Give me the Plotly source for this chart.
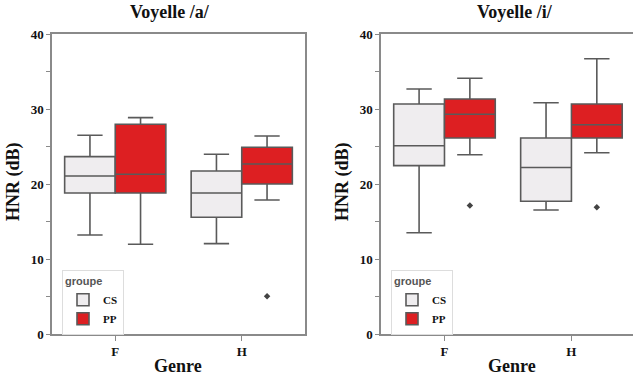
import plotly.graph_objects as go

genres = ["F", "H"]
groups = ["CS", "PP"]
yticks = [0, 5, 10, 15, 20, 25, 30, 35, 40]
yticklabels = ["0", "", "10", "", "20", "", "30", "", "40"]

# Voyelle /a/
a_cs_low = [13.2, 12.05]
a_cs_q1 = [18.8, 15.56]
a_cs_med = [21.07, 18.8]
a_cs_q3 = [23.65, 21.73]
a_cs_high = [26.5, 23.96]
a_cs_out = [[None], [None]]

a_pp_low = [11.96, 17.87]
a_pp_q1 = [18.8, 20.0]
a_pp_med = [21.3, 22.67]
a_pp_q3 = [27.96, 24.9]
a_pp_high = [28.85, 26.4]
a_pp_out = [[None], [5.03]]

# Voyelle /i/
i_cs_low = [13.5, 16.53]
i_cs_q1 = [22.45, 17.7]
i_cs_med = [25.1, 22.2]
i_cs_q3 = [30.67, 26.13]
i_cs_high = [32.67, 30.84]
i_cs_out = [[None], [None]]

i_pp_low = [23.9, 24.17]
i_pp_q1 = [26.13, 26.13]
i_pp_med = [29.3, 27.9]
i_pp_q3 = [31.33, 30.67]
i_pp_high = [34.1, 36.7]
i_pp_out = [[17.15], [16.9]]

W, H = 633, 382
fill = {"CS": "#efedef", "PP": "#dd1f22"}
linec = "#5a5a5a"
serif = "Liberation Serif"

fig = go.Figure()

def add_box(name, low, q1, med, q3, high, out, xa, ya, legend):
    fig.add_trace(go.Box(
        name=name, x=genres, y=out, q1=q1, median=med, q3=q3,
        lowerfence=low, upperfence=high, orientation="v",
        boxpoints="outliers", jitter=0, pointpos=0,
        marker=dict(symbol="diamond", size=5, color="#444444",
                    line=dict(width=0)),
        fillcolor=fill[name], line=dict(color=linec, width=1.6),
        whiskerwidth=0.5, xaxis=xa, yaxis=ya, legend=legend,
        offsetgroup=name, alignmentgroup=xa,
        showlegend=True, hoverinfo="skip"))

add_box("CS", a_cs_low, a_cs_q1, a_cs_med, a_cs_q3, a_cs_high, a_cs_out, "x", "y", "legend")
add_box("PP", a_pp_low, a_pp_q1, a_pp_med, a_pp_q3, a_pp_high, a_pp_out, "x", "y", "legend")
add_box("CS", i_cs_low, i_cs_q1, i_cs_med, i_cs_q3, i_cs_high, i_cs_out, "x2", "y2", "legend2")
add_box("PP", i_pp_low, i_pp_q1, i_pp_med, i_pp_q3, i_pp_high, i_pp_out, "x2", "y2", "legend2")

tickfont = dict(family=serif, size=13, color="#111111", weight="bold")
axcol = "#8a8a8a"

def xaxis(domain, rng, mirror):
    return dict(domain=domain, range=rng, type="category", categoryorder="array",
                categoryarray=genres, showline=True, linecolor=axcol, linewidth=1.5,
                mirror=mirror, ticks="outside", ticklen=5, tickcolor=axcol,
                tickfont=tickfont, showgrid=False, zeroline=False, fixedrange=True,
                automargin=False)

def yaxis(anchor, mirror):
    return dict(domain=[(H - 334) / H, (H - 34) / H], range=[0, 40], anchor=anchor,
                tickvals=yticks, ticktext=yticklabels, showline=True, linecolor=axcol,
                linewidth=1.5, mirror=mirror, ticks="outside", ticklen=4,
                tickcolor=axcol, tickfont=tickfont, showgrid=False, zeroline=False,
                automargin=False, fixedrange=True)

legend_common = dict(
    title=dict(text="groupe", font=dict(family="Liberation Sans", size=11, color="#555555")),
    font=dict(family=serif, size=11, color="#111111", weight="bold"),
    bgcolor="white", bordercolor="#dddddd", borderwidth=1,
    xanchor="left", yanchor="top", tracegroupgap=0, itemwidth=30)

fig.update_layout(
    width=W, height=H, margin=dict(l=0, r=0, t=0, b=0, autoexpand=False),
    paper_bgcolor="white", plot_bgcolor="white",
    boxmode="group", boxgap=0.2, boxgroupgap=0,
    xaxis=xaxis([52 / W, 305 / W], [-0.5, 1.5], True),
    yaxis=yaxis("x", True),
    xaxis2=xaxis([381 / W, 1.0], [-0.5, 1.485], True),
    yaxis2=yaxis("x2", False),
    legend=dict(x=62 / W, y=(H - 270) / H, **legend_common),
    legend2=dict(x=391 / W, y=(H - 270) / H, **legend_common),
)

titlefont = dict(family=serif, size=18, color="#111111", weight="bold")
ann = [
    dict(text="Voyelle /a/", x=170 / W, y=1 - 12 / H),
    dict(text="Voyelle /i/", x=515 / W, y=1 - 12 / H),
    dict(text="Genre", x=178 / W, y=1 - 366 / H),
    dict(text="Genre", x=512 / W, y=1 - 366 / H),
    dict(text="HNR (dB)", x=13 / W, y=1 - 182 / H, textangle=-90),
    dict(text="HNR (dB)", x=342 / W, y=1 - 182 / H, textangle=-90),
]
for a in ann:
    fig.add_annotation(xref="paper", yref="paper", xanchor="center", yanchor="middle",
                       showarrow=False, font=titlefont, **a)

fig.write_html("out.html", config={"displayModeBar": False},
               post_script="document.body.style.margin='0';document.body.style.overflow='hidden';")
